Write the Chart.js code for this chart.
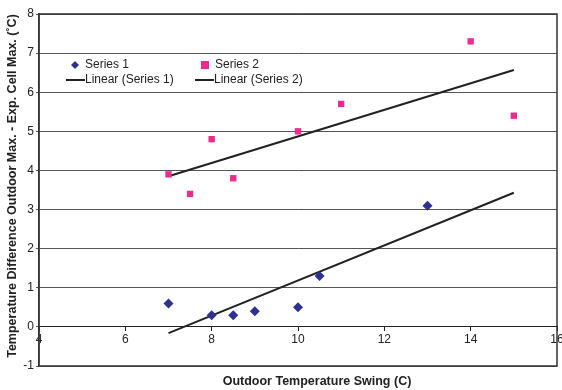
<!DOCTYPE html>
<html>
<head>
<meta charset="utf-8">
<script src="https://cdn.jsdelivr.net/npm/chart.js@4.4.1/dist/chart.umd.min.js"></script>
<style>
  html, body { margin: 0; padding: 0; background: #fff; }
  #wrap { width: 562px; height: 390px; }
</style>
</head>
<body>
<div id="wrap"><canvas id="chart" width="562" height="390"></canvas></div>
<script>
// ===== Data =====
const series1X = [7, 8, 8.5, 9, 10, 10.5, 13];
const series1Y = [0.6, 0.3, 0.3, 0.4, 0.5, 1.3, 3.1];
const series2X = [7, 7.5, 8, 8.5, 10, 11, 14, 15];
const series2Y = [3.9, 3.4, 4.8, 3.8, 5.0, 5.7, 7.3, 5.4];
// trendline ends
const trendX  = [7, 15];
const trend1Y = [-0.16, 3.43];
const trend2Y = [3.85, 6.57];

const xRange = [4, 16];
const yRange = [-1, 8];

const xTitle = 'Outdoor Temperature Swing (C)';
const yTitle = 'Temperature Difference Outdoor Max. - Exp. Cell Max. (\u02DAC)';

// ===== Colors =====
const NAVY  = '#2e3192';
const PINK  = '#ec2c8c';
const LINE  = '#222222';
const FONT  = '"Liberation Sans", Arial, sans-serif';

const pts = (xs, ys) => xs.map((x, i) => ({ x, y: ys[i] }));

// frame, axis titles and legend
const extras = {
  id: 'extras',
  afterDraw(chart) {
    const { ctx, chartArea: a } = chart;
    ctx.save();
    ctx.strokeStyle = '#333';
    ctx.lineWidth = 1.5;
    ctx.strokeRect(a.left, a.top, a.right - a.left, a.bottom - a.top);

    ctx.fillStyle = '#222';
    ctx.font = 'bold 12.5px ' + FONT;
    ctx.textAlign = 'center';
    ctx.textBaseline = 'middle';
    ctx.fillText(xTitle, 317, 382);
    ctx.save();
    ctx.translate(13, 186);
    ctx.rotate(-Math.PI / 2);
    ctx.fillText(yTitle, 0, 0);
    ctx.restore();

    // legend
    ctx.font = '12px ' + FONT;
    ctx.textAlign = 'left';
    // series 1 diamond
    ctx.fillStyle = NAVY;
    ctx.beginPath();
    ctx.moveTo(75, 61); ctx.lineTo(79, 65); ctx.lineTo(75, 69); ctx.lineTo(71, 65);
    ctx.closePath(); ctx.fill();
    // series 2 square
    ctx.fillStyle = PINK;
    ctx.fillRect(201, 61, 8, 8);
    ctx.fillStyle = '#222';
    ctx.fillText('Series 1', 85, 65);
    ctx.fillText('Series 2', 215, 65);
    ctx.strokeStyle = LINE;
    ctx.lineWidth = 2;
    ctx.beginPath();
    ctx.moveTo(66, 80); ctx.lineTo(85, 80);
    ctx.moveTo(195, 80); ctx.lineTo(214, 80);
    ctx.stroke();
    ctx.fillText('Linear (Series 1)', 85, 80);
    ctx.fillText('Linear (Series 2)', 214, 80);
    ctx.restore();
  }
};

new Chart(document.getElementById('chart'), {
  type: 'scatter',
  data: {
    datasets: [
      {
        label: 'Series 1',
        data: pts(series1X, series1Y),
        pointStyle: 'rectRot',
        pointRadius: 5,
        backgroundColor: NAVY,
        borderColor: NAVY,
        borderWidth: 0,
      },
      {
        label: 'Series 2',
        data: pts(series2X, series2Y),
        pointStyle: 'rect',
        pointRadius: 4.5,
        backgroundColor: PINK,
        borderColor: PINK,
        borderWidth: 0,
      },
      {
        label: 'Linear (Series 1)',
        data: pts(trendX, trend1Y),
        showLine: true,
        pointRadius: 0,
        borderColor: LINE,
        borderWidth: 2,
      },
      {
        label: 'Linear (Series 2)',
        data: pts(trendX, trend2Y),
        showLine: true,
        pointRadius: 0,
        borderColor: LINE,
        borderWidth: 2,
      },
    ],
  },
  options: {
    responsive: false,
    animation: false,
    layout: { padding: { top: 14, bottom: 24, right: 4, left: 0 } },
    plugins: {
      legend: { display: false },
      tooltip: { enabled: false },
    },
    scales: {
      x: {
        type: 'linear',
        position: { y: 0 },
        min: xRange[0],
        max: xRange[1],
        afterFit: (s) => { s.paddingLeft = 0; s.paddingRight = 0; },
        ticks: { stepSize: 2, color: '#222', font: { family: FONT, size: 12 }, padding: 2, maxRotation: 0 },
        grid: { drawOnChartArea: false, drawTicks: true, tickLength: 4, color: '#222' },
        border: { display: true, color: '#222', width: 1 },
      },
      y: {
        type: 'linear',
        min: yRange[0],
        max: yRange[1],
        afterFit: (s) => { s.width = 39; },
        ticks: { stepSize: 1, color: '#222', font: { family: FONT, size: 12 }, padding: 2 },
        grid: { color: '#555', lineWidth: 1, tickLength: 3 },
        border: { display: true, color: '#333', width: 1.5 },
      },
    },
  },
  plugins: [extras],
});
</script>
</body>
</html>
